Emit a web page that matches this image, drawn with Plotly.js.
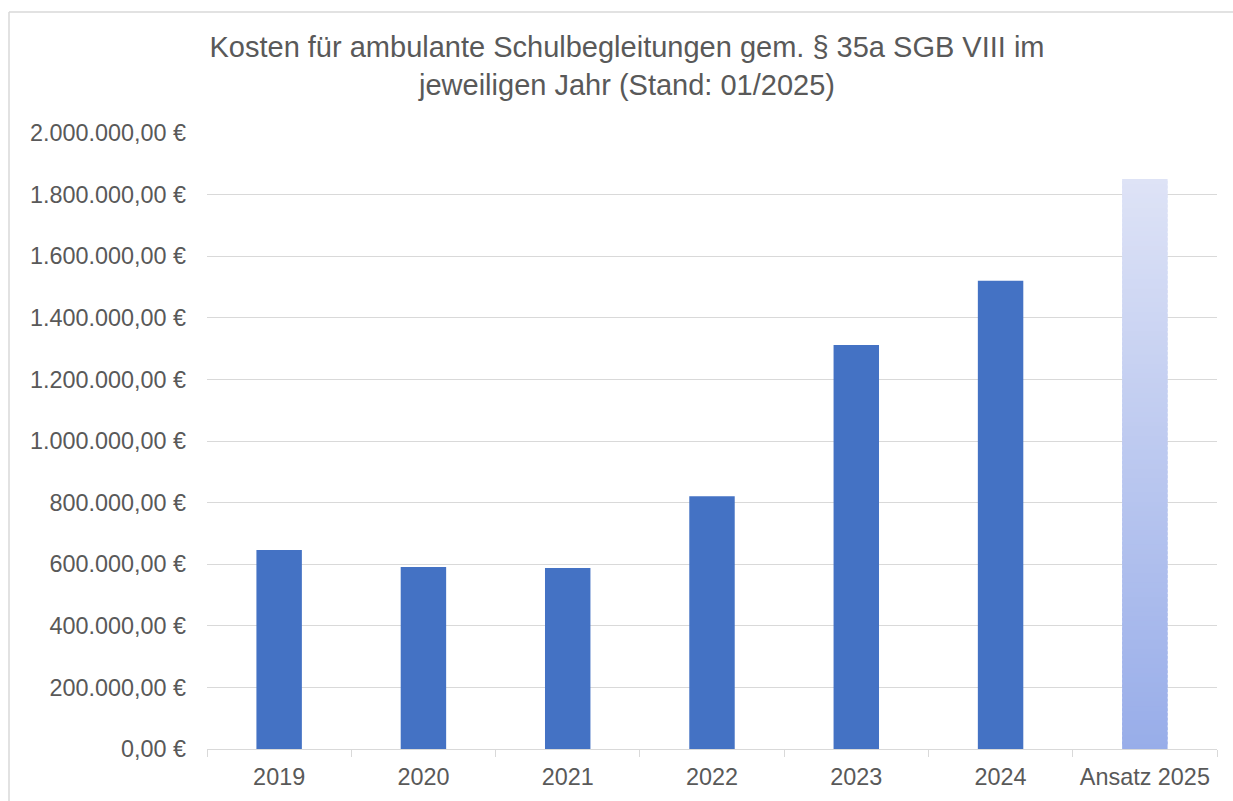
<!DOCTYPE html>
<html>
<head>
<meta charset="utf-8">
<script src="https://cdn.plot.ly/plotly-3.0.1.min.js"></script>
<style>
html,body{margin:0;padding:0;background:#fff;overflow:hidden;}
#chart{width:1233px;height:801px;overflow:hidden;}
</style>
</head>
<body>
<div id="chart"></div>
<script>
// ---- data ----
const categories = ["2019", "2020", "2021", "2022", "2023", "2024", "Ansatz 2025"];
const actualValues = [646000, 591000, 588000, 821000, 1312000, 1520000];
const plannedCategory = "Ansatz 2025";
const plannedValue = 1851000;
const titleText = "Kosten für ambulante Schulbegleitungen gem. § 35a SGB VIII im<br>jeweiligen Jahr (Stand: 01/2025)";

// ---- gradient for the planned bar (bottom -> top) ----
const N = 120;
const cBottom = [152, 173, 233];
const cTop = [222, 227, 246];
const segX = [], segY = [], segBase = [], segColor = [];
const h = plannedValue / N;
for (let i = 0; i < N; i++) {
  const t = (i + 0.5) / N;
  const c = cBottom.map((b, k) => Math.round(b + (cTop[k] - b) * t));
  segX.push(plannedCategory);
  segBase.push(i * h);
  segY.push(i === N - 1 ? h : h * 1.6);
  segColor.push(`rgb(${c[0]},${c[1]},${c[2]})`);
}

const traces = [
  {
    type: "bar",
    x: categories.slice(0, actualValues.length),
    y: actualValues,
    marker: { color: "#4472C4", line: { width: 0 } },
    width: 0.315,
    hoverinfo: "x+y",
    showlegend: false
  },
  {
    type: "bar",
    x: segX,
    y: segY,
    base: segBase,
    marker: { color: segColor, line: { width: 0 } },
    width: 0.315,
    hoverinfo: "skip",
    showlegend: false
  }
];

const gridColor = "#d9d9d9";
const textColor = "#595959";
const fontFamily = "'Liberation Sans', Arial, sans-serif";

const layout = {
  width: 1233,
  height: 801,
  margin: { l: 207, r: 16, t: 133, b: 52 },
  paper_bgcolor: "#ffffff",
  plot_bgcolor: "#ffffff",
  separators: ",.",
  barmode: "overlay",
  font: { family: fontFamily, color: textColor, size: 23.4 },
  title: {
    text: titleText,
    font: { family: fontFamily, size: 29, color: textColor },
    xref: "container",
    x: 627 / 1233,
    xanchor: "center",
    yref: "container",
    y: 1 - 57 / 801,
    yanchor: "middle"
  },
  xaxis: {
    type: "category",
    categoryorder: "array",
    categoryarray: categories,
    showgrid: false,
    showline: true,
    linecolor: gridColor,
    linewidth: 1,
    ticks: "outside",
    tickson: "boundaries",
    ticklen: 7,
    tickcolor: gridColor,
    tickwidth: 1,
    ticklabelstandoff: 7,
    tickfont: { family: fontFamily, size: 23.4, color: textColor },
    fixedrange: true
  },
  yaxis: {
    range: [0, 2000000],
    dtick: 200000,
    tick0: 0,
    tickformat: ",.2f",
    ticksuffix: "\u00a0€",
    showgrid: true,
    gridcolor: gridColor,
    gridwidth: 1,
    zeroline: false,
    showline: false,
    ticks: "",
    ticklabelstandoff: 20,
    tickfont: { family: fontFamily, size: 23.4, color: textColor },
    fixedrange: true
  },
  shapes: [
    {
      type: "line",
      xref: "paper", yref: "paper",
      x0: (9 - 207) / 1010, x1: (1233 - 207) / 1010,
      y0: (749 - 12) / 616, y1: (749 - 12) / 616,
      line: { color: gridColor, width: 1.5 },
      layer: "below"
    },
    {
      type: "line",
      xref: "paper", yref: "paper",
      x0: (9 - 207) / 1010, x1: (9 - 207) / 1010,
      y0: (749 - 801) / 616, y1: (749 - 12) / 616,
      line: { color: gridColor, width: 1.5 },
      layer: "below"
    }
  ]
};

Plotly.newPlot("chart", traces, layout, { displayModeBar: false, staticPlot: true });
</script>
</body>
</html>
